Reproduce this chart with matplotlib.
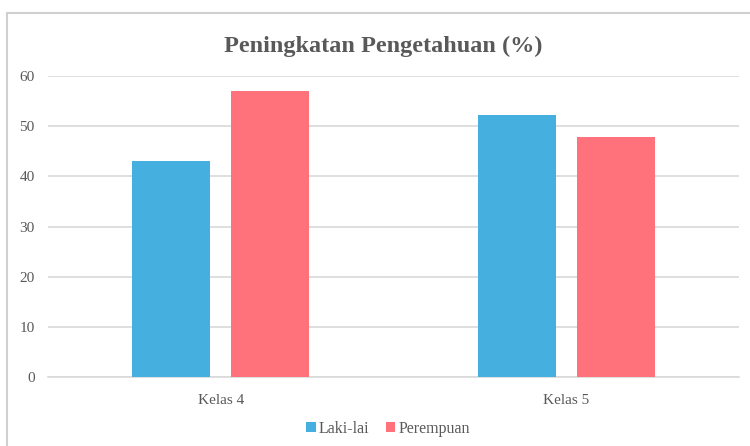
import matplotlib
matplotlib.use("Agg")
import matplotlib.pyplot as plt
import matplotlib.patches as mpatches
import numpy as np

categories = ["Kelas 4", "Kelas 5"]
laki = [43, 52.2]
perempuan = [57, 47.8]
series_names = ["Laki-lai", "Perempuan"]
yticks = [0, 10, 20, 30, 40, 50, 60]

blue = "#45AFE0"
red = "#FF727C"
text_c = "#595959"
grid_c = "#D9D9D9"

plt.rcParams['font.family'] = ['Liberation Serif', 'DejaVu Serif']

fig = plt.figure(figsize=(7.5, 4.46), dpi=100)
# chart border
fig.patches.append(mpatches.Rectangle((7/750, -0.1), 1.1, 1 - 13/446 + 0.1,
                                      transform=fig.transFigure, fill=False,
                                      edgecolor="#D0D0D0", linewidth=1.5))
ax = fig.add_axes([48/750, 1 - 377/446, (739 - 48)/750, (377 - 76)/446])

x = np.arange(len(categories))
w = 0.226
off = 0.143
ax.bar(x - off, laki, w, color=blue, label=series_names[0], zorder=3)
ax.bar(x + off, perempuan, w, color=red, label=series_names[1], zorder=3)

ax.set_xlim(-0.5, 1.5)
ax.set_ylim(0, 60)
ax.set_yticks(yticks)
ax.set_xticks(x)
ax.set_xticklabels(categories)
ax.yaxis.grid(True, color=grid_c, linewidth=1.2, zorder=0)
for s in ["top", "right", "left"]:
    ax.spines[s].set_visible(False)
ax.spines["bottom"].set_color(grid_c)
ax.spines["bottom"].set_linewidth(1.2)
ax.tick_params(axis="both", length=0, colors=text_c, labelsize=11)
ax.tick_params(axis="y", pad=9.5)
ax.tick_params(axis="x", pad=12)

fig.text(383/750, 1 - 46/446, "Peningkatan Pengetahuan (%)", ha="center", va="center",
         fontsize=17.5, fontweight="bold", color=text_c)

leg = fig.legend(loc="center", bbox_to_anchor=(388/750, 1 - 429/446), ncol=2,
                 frameon=False, fontsize=11.5, handlelength=0.6, handleheight=0.6,
                 handletextpad=0.2, columnspacing=1.0, labelcolor=text_c)

fig.savefig("out.png", dpi=100)
